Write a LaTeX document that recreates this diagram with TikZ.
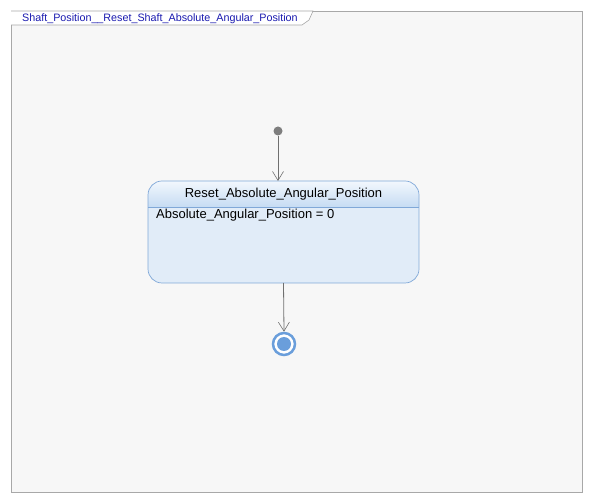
\documentclass[tikz,border=0pt]{standalone}
\usepackage{fontspec}
\setmainfont{Liberation Sans}
\usetikzlibrary{arrows.meta}
\definecolor{bgc}{HTML}{F7F7F7}
\definecolor{framec}{HTML}{A8A8A8}
\definecolor{tabtext}{HTML}{1A1AB0}
\definecolor{stfill}{HTML}{E1ECF8}
\definecolor{stborder}{HTML}{80A8D8}
\definecolor{hdtop}{HTML}{F2F7FD}
\definecolor{hdbot}{HTML}{C6DCF3}
\definecolor{finc}{HTML}{6A9EDB}
\definecolor{linec}{HTML}{707070}
\tikzset{
  conn/.style={draw=linec, line width=0.8pt, -{Straight Barb[length=9pt,width=11pt,line width=0.6pt]}},
  txt/.style={inner sep=0pt, font=\fontsize{13pt}{15pt}\selectfont}
}
\begin{document}
\begin{tikzpicture}[x=1pt,y=-1pt]
\useasboundingbox (0,0) rectangle (592,502);
\fill[white] (0,0) rectangle (592,502);
% frame
\draw[framec, fill=bgc, line width=0.8pt] (11,11) rectangle (582,492);
% tab
\draw[framec, fill=white, line width=0.6pt] (11,11) -- (313,11) -- (309,20) -- (302,25) -- (11,25);
\node[txt, anchor=west, text=tabtext, font=\fontsize{10.75pt}{12pt}\selectfont] (tab) at (22,18.5) {Shaft\_Position\_\_Reset\_Shaft\_Absolute\_Angular\_Position};
% state
\begin{scope}
\clip[rounded corners=14pt] (148,181) rectangle (419,283);
\fill[stfill] (148,181) rectangle (419,283);
\shade[top color=hdtop, bottom color=hdbot] (148,181) rectangle (419,207);
\end{scope}
\draw[stborder, line width=0.7pt, rounded corners=14pt] (148,181) rectangle (419,283);
\draw[stborder, line width=0.7pt] (148,207) -- (419,207);
\coordinate (stTop) at (278,181);
\coordinate (stBot) at (283.5,283);
\node[txt] (title) at (283.5,194) {Reset\_Absolute\_Angular\_Position};
\node[txt, anchor=west] (body) at (156,215) {Absolute\_Angular\_Position = 0};
% initial
\node[circle, fill=linec!90, inner sep=0pt, minimum size=9pt] (init) at (278,131) {};
\draw[conn] (init) -- (stTop);
% final
\node[circle, draw=finc, line width=2.5pt, fill=white, inner sep=0pt, minimum size=22pt] (fin) at (284,344) {};
\node[circle, fill=finc, inner sep=0pt, minimum size=14pt] (finin) at (284,344) {};
\draw[conn] (stBot) -- (fin.north);
\end{tikzpicture}
\end{document}
